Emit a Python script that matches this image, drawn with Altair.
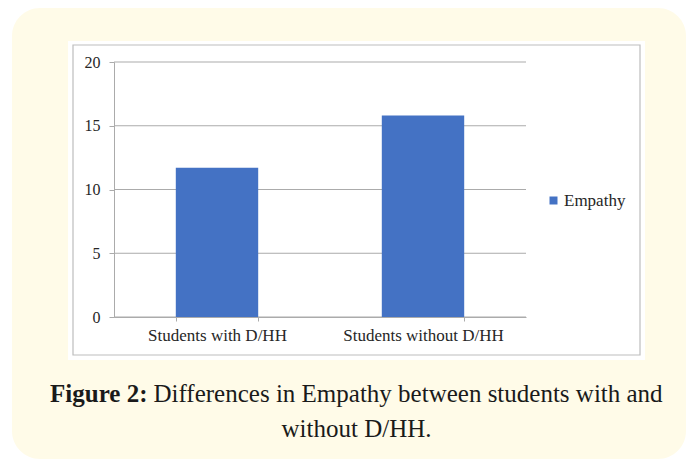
import altair as alt
import pandas as pd

# ---- data ----
categories = ["Students with D/HH", "Students without D/HH"]
empathy = [11.7, 15.8]
series_name = "Empathy"
y_ticks = [0, 5, 10, 15, 20]
caption_bold = "Figure 2:"
caption_line1 = "Differences in Empathy between students with and"
caption_line2 = "without D/HH."

bars_df = pd.DataFrame({"group": categories, "value": empathy,
                        "series": [series_name] * len(categories)})
grid_df = pd.DataFrame({"tick": y_ticks})
one = alt.Data(values=[{}])

W, H = 412, 255
GREY = "#ABABAB"
SERIF = "Liberation Serif"
CAP_FONT = "Liberation Serif"
CAP_SIZE = 25

y_scale = alt.Scale(domain=[0, 20], nice=False)
y_axis = alt.Axis(title=None, values=y_ticks, grid=False, labelFont=SERIF,
                  labelFontSize=16, labelColor="#262626", tickSize=5,
                  labelPadding=9, domainColor=GREY, tickColor=GREY, zindex=1)

card = alt.Chart(one).mark_rect(color="#FFFBE8", cornerRadius=28).encode(
    x=alt.value(-102), x2=alt.value(572), y=alt.value(-54), y2=alt.value(397))
white_box = alt.Chart(one).mark_rect(color="white").encode(
    x=alt.value(-46), x2=alt.value(531), y=alt.value(-21), y2=alt.value(298))
border = alt.Chart(one).mark_rect(fill="white", stroke="#BDBDBD", strokeWidth=1.2).encode(
    x=alt.value(-41), x2=alt.value(526), y=alt.value(-17), y2=alt.value(293))

grid = alt.Chart(grid_df).mark_rule(color=GREY, strokeWidth=1).encode(
    y=alt.Y("tick:Q", scale=y_scale, axis=y_axis),
    x=alt.value(0), x2=alt.value(W))

bars = alt.Chart(bars_df).mark_bar().encode(
    x=alt.X("group:N", sort=categories,
            scale=alt.Scale(paddingInner=0.6, paddingOuter=0.3),
            axis=alt.Axis(title=None, labelAngle=0, tickBand="extent",
                          labelFont=SERIF, labelFontSize=17, labelColor="#262626",
                          tickSize=4, labelPadding=6, domainColor=GREY,
                          tickColor=GREY, zindex=1)),
    y=alt.Y("value:Q", scale=y_scale, axis=y_axis),
    color=alt.Color("series:N", scale=alt.Scale(range=["#4472C4"]),
                    legend=alt.Legend(title=None, orient="none", legendX=431,
                                      legendY=130, symbolType="square",
                                      symbolSize=64, symbolStrokeWidth=0,
                                      labelFont=SERIF, labelFontSize=17,
                                      labelColor="#262626", labelOffset=2,
                                      padding=0)),
)

cap_b = alt.Chart(one).mark_text(font=CAP_FONT, fontWeight="bold", fontSize=CAP_SIZE,
                                 align="right", baseline="alphabetic",
                                 color="#1a1a1a").encode(
    text=alt.value(caption_bold), x=alt.value(33.5), y=alt.value(340))
cap_1 = alt.Chart(one).mark_text(font=CAP_FONT, fontSize=CAP_SIZE, align="left",
                                 baseline="alphabetic", color="#1a1a1a").encode(
    text=alt.value(caption_line1), x=alt.value(39.5), y=alt.value(340))
cap_2 = alt.Chart(one).mark_text(font=CAP_FONT, fontSize=CAP_SIZE, align="center",
                                 baseline="alphabetic", color="#1a1a1a").encode(
    text=alt.value(caption_line2), x=alt.value(242.5), y=alt.value(375))

chart = alt.layer(card, white_box, border, grid, bars, cap_b, cap_1, cap_2).properties(
    width=W, height=H,
    padding={"left": 106, "top": 54, "right": 161, "bottom": 142},
    autosize=alt.AutoSizeParams(type="none"),
    background="white",
).configure_view(stroke=None)

chart.save("out.html", embed_options={"renderer": "svg", "actions": False})
